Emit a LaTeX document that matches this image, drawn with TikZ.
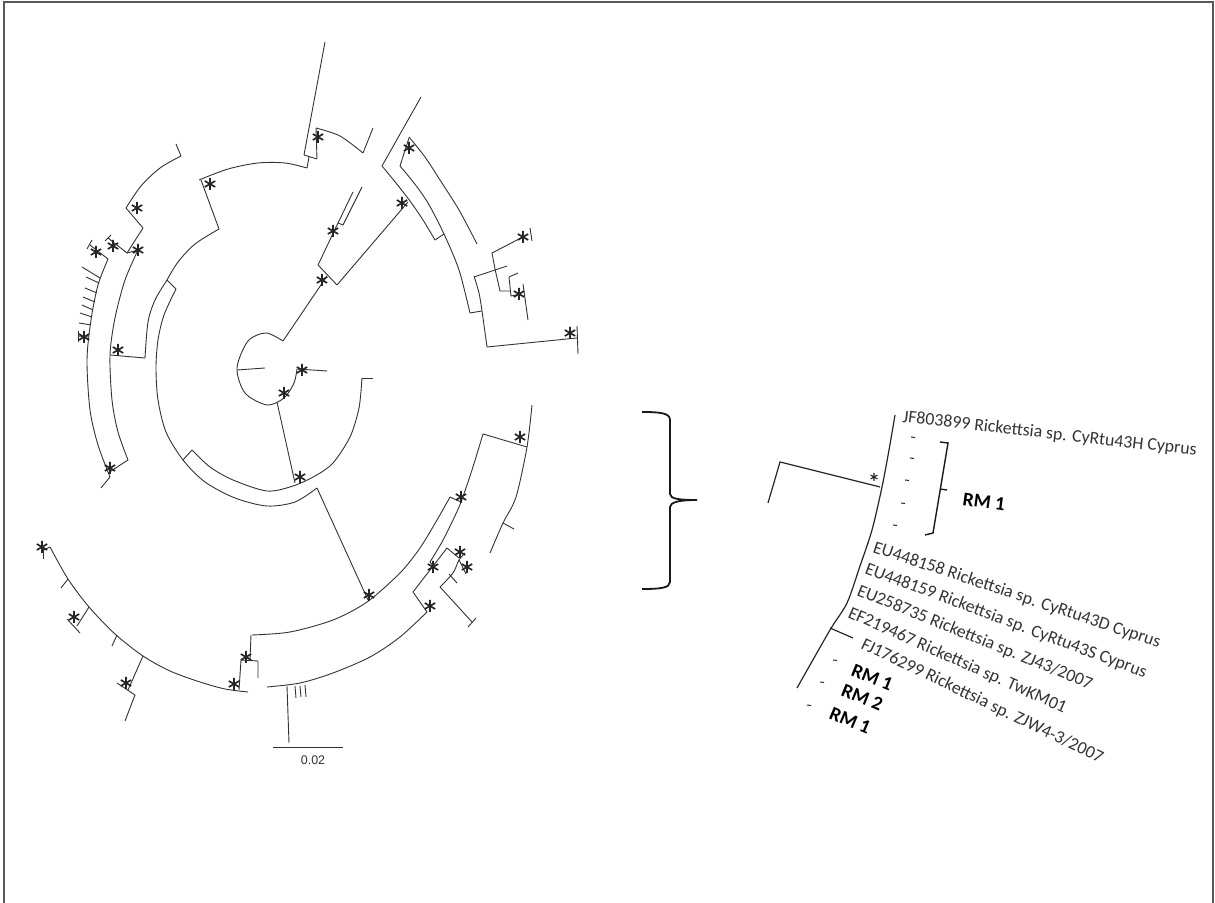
\documentclass[tikz,border=0pt]{standalone}
\usepackage{fontspec}
\newfontfamily\carl{Carlito}
\newfontfamily\arialf{Liberation Sans}
\begin{document}
\begin{tikzpicture}[x=1pt,y=1pt,
  tr/.style={line width=0.9pt, black!80, line join=round},
  thk/.style={line width=1.2pt, black!85},
  lbl/.style={font=\carl\fontsize{17.8}{17.8}\selectfont, text=black!80, inner sep=0pt, anchor=base west},
  rm/.style={font=\carl\bfseries\fontsize{19.5}{19.5}\selectfont, text=black, inner sep=0pt, anchor=base west},
  ast/.pic={\draw[line width=1.7pt, black!85] (0,-6)--(0,6) (30:6)--(210:6) (150:6)--(330:6);},
  sast/.pic={\draw[line width=1.1pt, black!85] (0,-4)--(0,4) (30:4)--(210:4) (150:4)--(330:4);}
]
\useasboundingbox (0,0) rectangle (1215,902);
\begin{scope}[shift={(0,902)},yscale=-1]
% frame
\draw[line width=1.8pt, black!65] (4,905)--(4,2)--(1213,2)--(1213,905);

% ---------- root ----------
\draw[tr] plot[smooth] coordinates {(283,341)(266,333)(248,341)(237,368)(245,393)(267,405)(284,398)(294,383)(297,369)};
\draw[tr] (237,370)--(265,368);
\draw[tr] (297,369)--(327,371);
\draw[tr] (277,402)--(295,483);

% ---------- upper-right clade ----------
\draw[tr] (283,341)--(327,276);
\draw[tr] (318,265)--(337,285);
\draw[tr] (318,265)--(338,223);
\draw[tr] (338,223)--(343,225);
\draw[tr] (338,223)--(353,192);
\draw[tr] (343,225)--(362,187);
\draw[tr] (337,285)--(408,202);
\draw[tr] plot[smooth] coordinates {(382,166)(396,183)(410,201)(423,220)(435,240)};
\draw[tr] (382,166)--(421,97);
\draw[tr] (435,240)--(444,234);
\draw[tr] plot[smooth] coordinates {(400,166)(414,183)(428,203)(444,234)(459,270)(470,313)};
\draw[tr] (400,166)--(409,138);
\draw[tr] plot[smooth] coordinates {(409,137)(425,157)(440,180)(459,210)(477,244)};
\draw[tr] (470,313)--(482,311);
\draw[tr] plot[smooth] coordinates {(474,276)(479,293)(482,311)(487,347)};
\draw[tr] (474,277)--(507,266);
\draw[tr] (487,347)--(577,338);
\draw[tr] (577,326)--(578,354);
\draw[tr] (492,253)--(495,269)--(500,291)--(510,291);
\draw[tr] (492,253)--(521,238);
\draw[tr] (530,228)--(532,241);
\draw[tr] (509,277)--(518,273);
\draw[tr] (509,277)--(511,296)--(521,294);
\draw[tr] (523,284)--(528,320);

% ---------- top / upper-left ----------
\draw[tr] plot[smooth] coordinates {(199,180)(228,169)(258,163)(285,163)(307,168)};
\draw[tr] (201,180)--(219,229);
\draw[tr] (307,168)--(309,157);
\draw[tr] (304,155)--(317,159);
\draw[tr] (304,155)--(325,42);
\draw[tr] (317,159)--(316,128);
\draw[tr] plot[smooth] coordinates {(316,128)(340,136)(363,153)};
\draw[tr] (363,153)--(373,128);

\draw[tr] plot[smooth] coordinates {(219,229)(195,244)(178,262)(167,280)};
\draw[tr] (167,280)--(176,289);
\draw[tr] plot[smooth] coordinates {(176,289)(164,315)(158,340)(156,368)(158,400)(166,432)(183,460)(205,482)(235,498)(267,506)(295,502)(317,488)};
\draw[tr] (183,460)--(192,450);
\draw[tr] plot[smooth] coordinates {(192,450)(210,467)(233,480)(267,491)(293,486)(315,476)(333,463)(350,437)(359,408)(362,378)};
\draw[tr] (362,378)--(373,378);
\draw[tr] (317,488)--(368,600);

% left clade
\draw[tr] plot[smooth] coordinates {(167,280)(155,300)(148,322)(145,358)};
\draw[tr] (145,358)--(110,355);
\draw[tr] plot[smooth] coordinates {(138,250)(125,280)(115,318)(110,355)(112,400)(118,432)(128,460)};
\draw[tr] (128,460)--(108,473);
\draw[tr] plot[smooth] coordinates {(108,259)(98,285)(91,320)(87,360)(90,410)(98,445)(110,477)};
\draw[tr] (110,477)--(101,488);
\draw[tr] (108,259)--(90,245);
\draw[tr] (87,249)--(92,240);
\draw[tr] (100,278)--(82,267);
\draw[tr] (99,283)--(86,277);
\draw[tr] (97,293)--(85,288);
\draw[tr] (95,302)--(83,297);
\draw[tr] (93,310)--(82,305);
\draw[tr] (92,317)--(80,313);
\draw[tr] (91,325)--(79,323);
\draw[tr] (88,337)--(78,336);
\draw[tr] (78,331)--(78,342);

\draw[tr] (176,144)--(181,156);
\draw[tr] plot[smooth] coordinates {(181,156)(160,168)(141,186)(126,208)};
\draw[tr] (126,208)--(143,228)--(127,253)--(108,238);
\draw[tr] (105,241)--(111,235);
\draw[tr] (127,253)--(138,250);

% ---------- lower clade ----------
\draw[tr] plot[smooth] coordinates {(252,635)(290,632)(333,620)(367,602)(400,573)(420,548)(437,520)(450,497)};
\draw[tr] (450,497)--(461,502);
\draw[tr] plot[smooth] coordinates {(483,434)(472,470)(461,502)(453,520)(442,542)(430,562)};
\draw[tr] (430,562)--(434,567);
\draw[tr] (447,548)--(413,592);
\draw[tr] (483,434)--(527,447);
\draw[tr] plot[smooth] coordinates {(532,405)(527,447)(516,497)(503,523)(490,553)};
\draw[tr] (503,523)--(514,529);
\draw[tr] (413,592)--(427,612);
\draw[tr] plot[smooth] coordinates {(267,687)(300,683)(333,673)(370,657)(400,637)(427,612)};
\draw[tr] (447,548)--(459,558);
\draw[tr] plot[smooth] coordinates {(465,553)(459,560)(453,573)(440,587)};
\draw[tr] (459,560)--(466,574);
\draw[tr] (449,574)--(457,583);
\draw[tr] (440,587)--(472,622);
\draw[tr] (468,627)--(476,618);

\draw[tr] (251,635)--(250,659);
\draw[tr] (241,660)--(258,661)--(258,678);
\draw[tr] (241,660)--(239,690);
\draw[tr] plot[smooth] coordinates {(248,692)(225,689)(200,682)(170,671)(143,656)(115,634)(89,607)(68,579)(50,547)};
\draw[tr] (50,547)--(44,550);
\draw[tr] (43,546)--(43,559);
\draw[tr] (68,579)--(61,588);
\draw[tr] (89,607)--(77,626);
\draw[tr] (67,619)--(80,633);
\draw[tr] (117,635)--(112,646);
\draw[tr] (143,656)--(128,690);
\draw[tr] (117,683)--(135,695)--(125,721);

\draw[tr] (287,686)--(289,743);
\draw[tr] (295,686)--(296,698);
\draw[tr] (300,686)--(301,697);
\draw[tr] (305,685)--(306,697);

% scale bar
\draw[tr] (273,747)--(343,747);
\node[font=\arialf\fontsize{12.5}{12.5}\selectfont, text=black!80] (scale) at (313,760) {0.02};

% asterisks
\foreach \p in {(318,137),(210,184),(137,208),(113,246),(138,250),(96,252),(84,337),(118,350),(110,468),
  (333,231),(322,280),(409,148),(402,203),(523,237),(519,294),(570,333),(302,370),(284,393),(300,477),
  (369,595),(520,437),(461,497),(433,567),(460,552),(467,567),(430,606),(246,657),(234,684),(42,547),(74,617),(126,683)}
  \pic at \p {ast};

% ---------- brace ----------
\draw[line width=1.8pt, black!90] (642,412) .. controls (660,412) and (670,413) .. (670,420) -- (670,494)
  .. controls (670,499) and (680,500) .. (697,500) .. controls (680,500) and (670,502) .. (670,507)
  -- (670,582) .. controls (670,588) and (660,589) .. (642,589);

% ---------- right panel ----------
\draw[thk] (768,503)--(780,462)--(880,487);
\pic at (874,477) {sast};
\draw[thk] plot[smooth] coordinates {(895,415)(889,450)(882,487)(872,530)(860,566)(847,603)(830,630)(797,688)};
\draw[thk] (830,628)--(853,638);
\foreach \p in {(913,437),(912,458),(907,480),(903,503),(895,525),(835,660),(822,682),(809,705)}
  \draw[line width=1pt, black!85] \p ++(-2,0) -- ++(4,0.5);
\draw[line width=1.4pt, black!90] (940,442)--(948,443)--(933,533)--(925,535);
\draw[line width=1.4pt, black!90] (940,489)--(947,490);

\node[lbl, rotate=-6.5] (jf) at (902,422) {JF803899 Rickettsia sp. CyRtu43H Cyprus};
\node[rm, rotate=-8] (rma) at (962,505) {RM 1};
\node[lbl, rotate=-18.5] (eu1) at (872,552) {EU448158 Rickettsia sp. CyRtu43D Cyprus};
\node[lbl, rotate=-20.5] (eu2) at (864,573) {EU448159 Rickettsia sp. CyRtu43S Cyprus};
\node[lbl, rotate=-22] (eu3) at (856,595) {EU258735 Rickettsia sp. ZJ43/2007};
\node[lbl, rotate=-24] (ef) at (847,617) {EF219467 Rickettsia sp. TwKM01};
\node[lbl, rotate=-25.6] (fj) at (860,648) {FJ176299 Rickettsia sp. ZJW4-3/2007};
\node[rm, rotate=-22] (rmb) at (850,675) {RM 1};
\node[rm, rotate=-22] (rmc) at (840,695) {RM 2};
\node[rm, rotate=-23] (rmd) at (828,718) {RM 1};
\end{scope}
\end{tikzpicture}
\end{document}
